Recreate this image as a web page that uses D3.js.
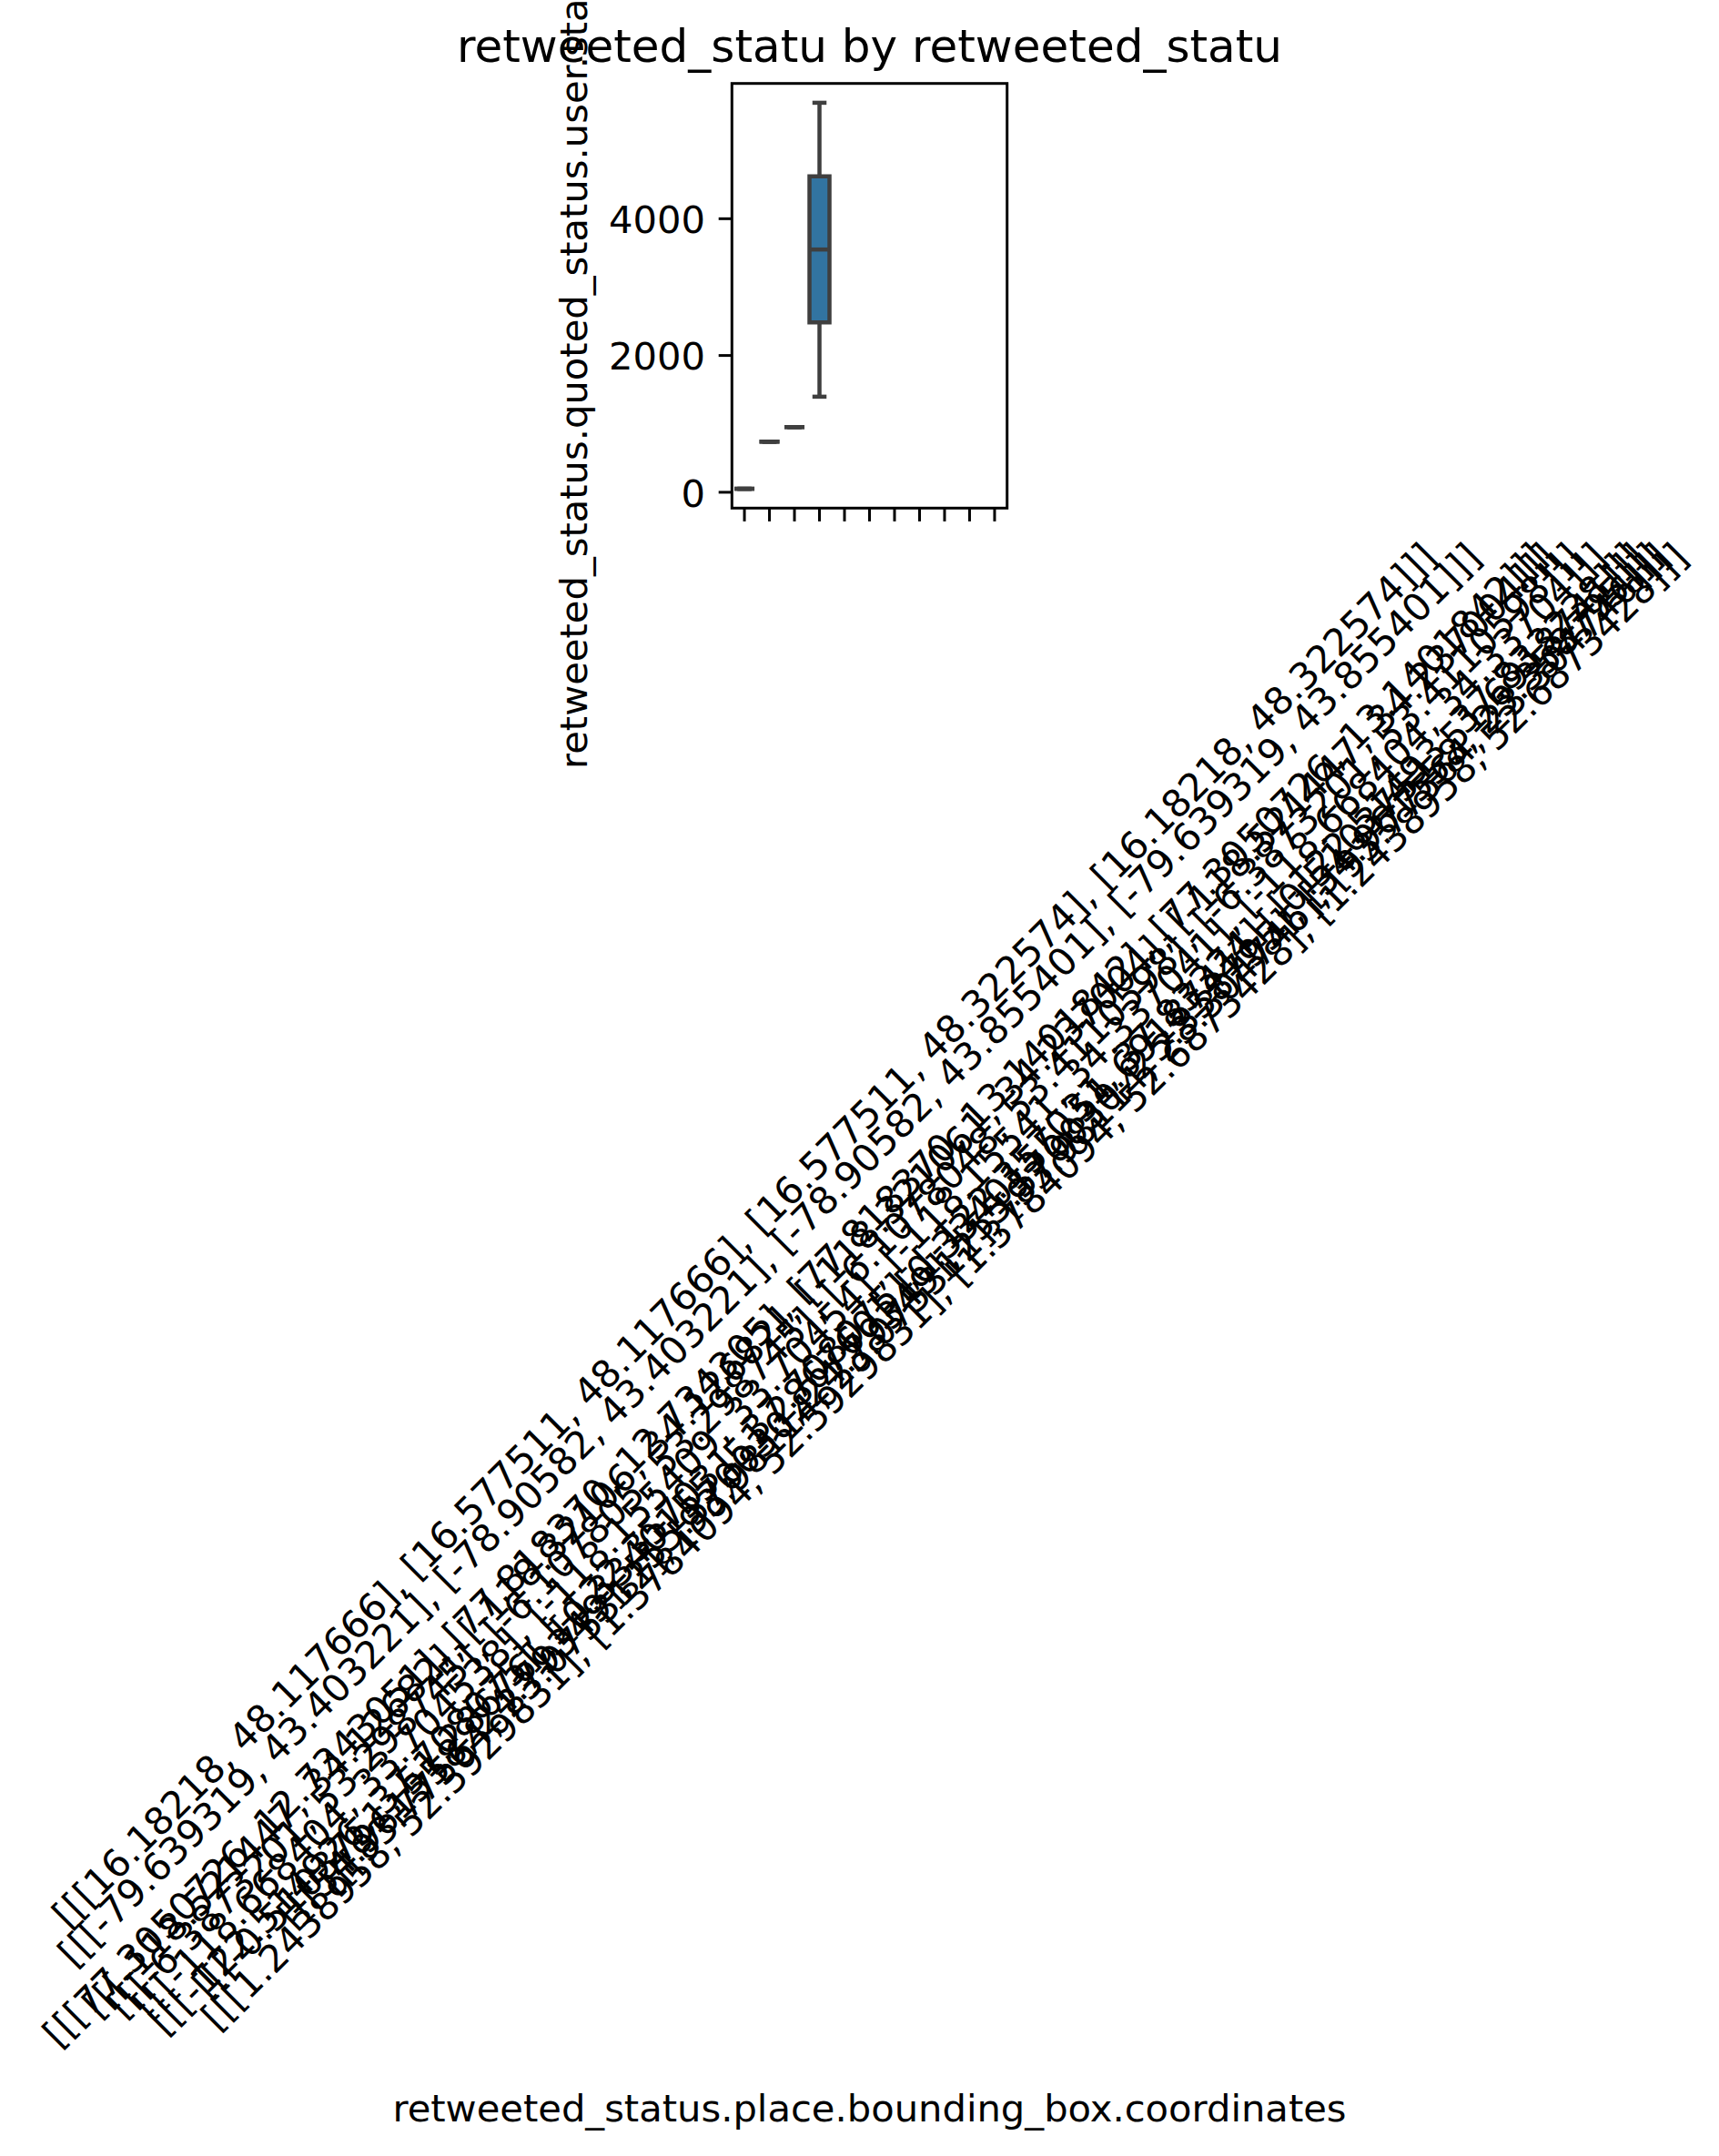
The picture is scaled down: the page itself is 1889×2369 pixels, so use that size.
<!DOCTYPE html>
<html>
<head>
<meta charset="utf-8">
<script src="https://cdn.jsdelivr.net/npm/d3@7"></script>
<style>
  html, body { margin: 0; padding: 0; background: #ffffff; }
  svg { display: block; }
  text { font-family: "DejaVu Sans", sans-serif; fill: #000; }
</style>
</head>
<body>
<svg id="chart" width="1889" height="2369"></svg>
<script>
// ---- data ----
const categories = [
  "[[[16.18218, 48.117666], [16.577511, 48.117666], [16.577511, 48.322574], [16.18218, 48.322574]]]",
  "[[[-79.639319, 43.403221], [-78.90582, 43.403221], [-78.90582, 43.855401], [-79.639319, 43.855401]]]",
  "[[[77.3050726, 12.7343051], [77.818370, 12.734305], [77.818370, 13.1401842], [77.3050726, 13.1401842]]]",
  "[[[-118.521447, 34.12682], [-118.32106, 34.12682], [-118.321061, 34.237004], [-118.521447, 34.237004]]]",
  "[[[-6.3873201, 53.298745], [-6.107805, 53.298745], [-6.1078048, 53.4110598], [-6.3873201, 53.4110598]]]",
  "[[[-118.668404, 33.704538], [-118.155409, 33.70454], [-118.15541, 34.337041], [-118.668404, 34.33704]]]",
  "[[[-122.514926, 37.708075], [-122.357031, 37.708075], [-122.357031, 37.83324], [-122.51493, 37.833238]]]",
  "[[[-0.5103751, 51.28676], [0.3340155, 51.286760], [0.3340155, 51.6918741], [-0.5103751, 51.6918741]]]",
  "[[[1.2438958, 52.5929831], [1.3784094, 52.5929831], [1.3784094, 52.6873428], [1.2438958, 52.6873428]]]",
  "[[[54.961558, 24.79349], [55.570030, 24.79349], [55.570030, 25.358795], [54.961558, 25.358795]]]",
  "[[[93.77564, 23.075312], [93.98114, 23.075312], [93.98114, 23.304746], [93.77564, 23.304746]]]"
];
const whiskerLow  = [44, 733, 947, 1391, null, null, null, null, null, null, null];
const q1Values    = [44, 733, 947, 2476, null, null, null, null, null, null, null];
const medians     = [44, 733, 947, 3543, null, null, null, null, null, null, null];
const q3Values    = [44, 733, 947, 4613, null, null, null, null, null, null, null];
const whiskerHigh = [44, 733, 947, 5689, null, null, null, null, null, null, null];
const yTicks = [0, 2000, 4000];

const titleText = "retweeted_statu by retweeted_statu";
const xLabelText = "retweeted_status.place.bounding_box.coordinates";
const yLabelText = "retweeted_status.quoted_status.user.statuses_count";

// ---- layout ----
const W = 1889, H = 2369;
const ax = { left: 804.3, right: 1106.7, top: 91.7, bottom: 558.3 };
const fs = 41.67;       // 10pt @ 300dpi
const titleFs = 50;     // 12pt @ 300dpi
const tickLen = 14.6, tickPad = 14.6;
const boxFill = "#3274a1", boxStroke = "#3f3f3f";

const svg = d3.select("#chart");
svg.append("rect").attr("width", W).attr("height", H).attr("fill", "#fff");

const x = d3.scaleBand().domain(categories).range([ax.left, ax.right]).padding(0);
const bw = x.bandwidth();
const allVals = whiskerLow.concat(whiskerHigh).filter(v => v != null);
const yMin = d3.min(allVals), yMax = d3.max(allVals);
const m = (yMax - yMin) * 0.05;
const y = d3.scaleLinear().domain([yMin - m, yMax + m]).range([ax.bottom, ax.top]);

// ---- boxes ----
const rows = categories.map((c, i) => ({
  c, lo: whiskerLow[i], q1: q1Values[i], med: medians[i], q3: q3Values[i], hi: whiskerHigh[i]
})).filter(d => d.q1 != null);

const g = svg.append("g");
const boxW = bw * 0.8;
rows.forEach(d => {
  const cx = x(d.c) + bw / 2;
  const x0 = cx - boxW / 2, x1 = cx + boxW / 2;
  const capW = boxW / 2;
  if (d.lo < d.q1) {
    g.append("line").attr("x1", cx).attr("x2", cx).attr("y1", y(d.q1)).attr("y2", y(d.lo))
      .attr("stroke", boxStroke).attr("stroke-width", 4.5);
  }
  if (d.hi > d.q3) {
    g.append("line").attr("x1", cx).attr("x2", cx).attr("y1", y(d.q3)).attr("y2", y(d.hi))
      .attr("stroke", boxStroke).attr("stroke-width", 4.5);
  }
  [d.lo, d.hi].forEach(v => {
    g.append("line").attr("x1", cx - capW / 2).attr("x2", cx + capW / 2)
      .attr("y1", y(v)).attr("y2", y(v))
      .attr("stroke", boxStroke).attr("stroke-width", 4.5).attr("stroke-linecap", "square");
  });
  const p = d3.path();
  p.moveTo(x0, y(d.q3)); p.lineTo(x1, y(d.q3)); p.lineTo(x1, y(d.q1)); p.lineTo(x0, y(d.q1)); p.closePath();
  g.append("path").attr("d", p.toString()).attr("fill", boxFill)
    .attr("stroke", boxStroke).attr("stroke-width", 4.5).attr("stroke-linejoin", "miter");
  g.append("line").attr("x1", x0).attr("x2", x1).attr("y1", y(d.med)).attr("y2", y(d.med))
    .attr("stroke", boxStroke).attr("stroke-width", 4.5);
});

// ---- axes ----
const yAxis = d3.axisLeft(y).tickValues(yTicks).tickSize(tickLen).tickPadding(tickPad).tickFormat(d3.format("d"));
const yg = svg.append("g").attr("transform", `translate(${ax.left},0)`).call(yAxis);
yg.select(".domain").remove();
yg.selectAll(".tick line").attr("stroke", "#000").attr("stroke-width", 3);
yg.selectAll(".tick text").attr("font-size", fs).attr("font-family", "DejaVu Sans")
  .attr("fill", "#000").attr("dy", "0.38em");

const xAxis = d3.axisBottom(x).tickSize(tickLen).tickPadding(tickPad);
const xg = svg.append("g").attr("transform", `translate(0,${ax.bottom})`).call(xAxis);
xg.select(".domain").remove();
xg.selectAll(".tick line").attr("stroke", "#000").attr("stroke-width", 3);
const hBox = fs * 1.164;
xg.selectAll(".tick text")
  .attr("font-size", fs).attr("font-family", "DejaVu Sans").attr("fill", "#000")
  .attr("text-anchor", "middle").attr("dy", null).attr("x", 0)
  .attr("y", fs * 0.346)
  .each(function() {
    const L = this.getComputedTextLength();
    const half = (L + hBox) / (2 * Math.SQRT2);
    d3.select(this).attr("transform", `translate(0,${tickLen + tickPad + half}) rotate(-45)`);
  });

// spines
svg.append("rect").attr("x", ax.left).attr("y", ax.top)
  .attr("width", ax.right - ax.left).attr("height", ax.bottom - ax.top)
  .attr("fill", "none").attr("stroke", "#000").attr("stroke-width", 3);

// ---- titles ----
const cxAx = (ax.left + ax.right) / 2;
svg.append("text").attr("x", cxAx).attr("y", 68).attr("text-anchor", "middle")
  .attr("font-size", titleFs).text(titleText);
svg.append("text").attr("x", cxAx).attr("y", 2330.7).attr("text-anchor", "middle")
  .attr("font-size", fs).text(xLabelText);
svg.append("text").attr("transform", `translate(645,845) rotate(-90)`)
  .attr("text-anchor", "start").attr("font-size", fs).text(yLabelText);
</script>
</body>
</html>
